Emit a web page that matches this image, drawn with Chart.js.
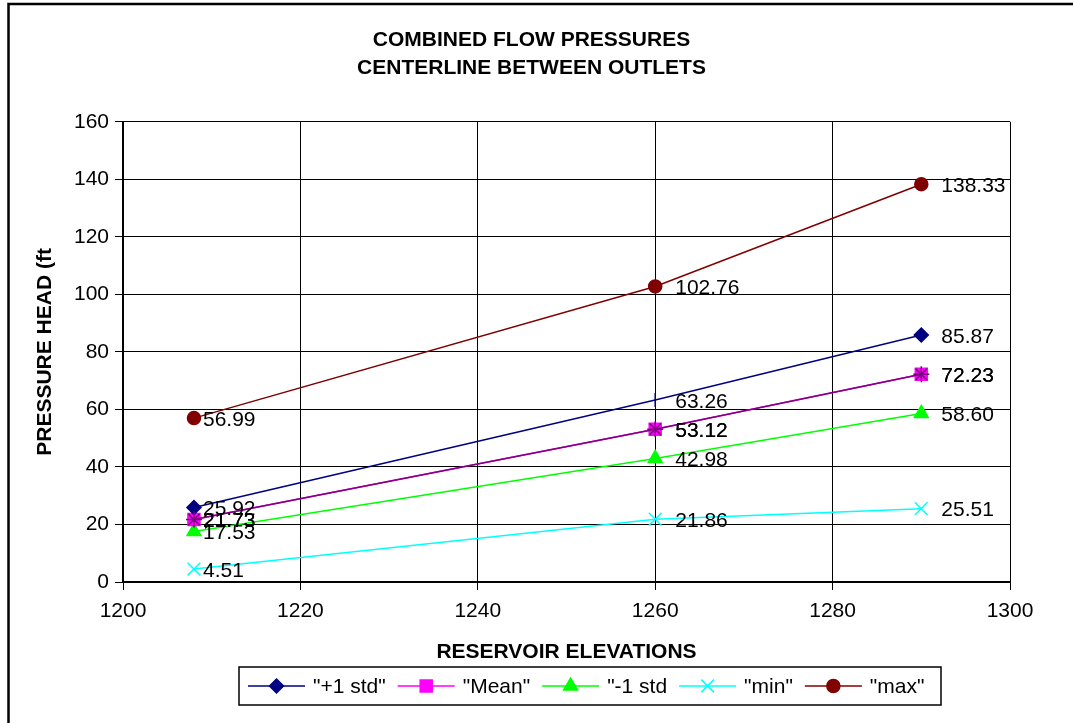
<!DOCTYPE html>
<html lang="en">
<head>
<meta charset="UTF-8">
<title>Combined Flow Pressures</title>
<script src="https://cdn.jsdelivr.net/npm/chart.js"></script>
<style>
  html, body { margin: 0; padding: 0; background: #fff; }
  #wrap { width: 1073px; height: 723px; }
</style>
</head>
<body>
<div id="wrap"><canvas id="flowChart" width="1073" height="723"></canvas></div>
<script>
// x = reservoir elevation, y = pressure head (ft) for each series
const elevations = [1208, 1260, 1290];
const plusOneStd = [25.92, 63.26, 85.87];
const meanVals = [21.73, 53.12, 72.23];
const minusOneStd = [17.53, 42.98, 58.60];
const minVals = [4.51, 21.86, 25.51];
const maxVals = [56.99, 102.76, 138.33];

const seriesNames = ['"+1 std"', '"Mean"', '"-1 std', '"min"', '"max"'];
const titleLines = ['COMBINED FLOW PRESSURES', 'CENTERLINE BETWEEN OUTLETS'];
const xTitle = 'RESERVOIR ELEVATIONS';
const yTitle = 'PRESSURE HEAD (ft';

const FONT = "Arial, 'Liberation Sans', sans-serif";

function pts(vals) {
    return vals.map((v, i) => ({ x: elevations[i], y: v }));
}

const datasets = [
    {
        label: seriesNames[0], data: pts(plusOneStd),
        borderColor: '#000080', backgroundColor: '#000080',
        pointStyle: ['rectRot', 'line', 'rectRot'], pointRotation: [0, 90, 0],
        pointRadius: 7, legendStyle: 'rectRot'
    },
    {
        label: seriesNames[1], data: pts(meanVals),
        borderColor: '#FF00FF', backgroundColor: '#FF00FF',
        pointStyle: 'rect', pointRadius: 8.5, legendStyle: 'rect'
    },
    {
        label: seriesNames[2], data: pts(minusOneStd),
        borderColor: '#00FF00', backgroundColor: '#00FF00',
        pointStyle: 'triangle', pointRadius: 8, legendStyle: 'triangle'
    },
    {
        label: seriesNames[3], data: pts(minVals),
        borderColor: '#00FFFF', backgroundColor: '#00FFFF',
        pointStyle: 'crossRot', pointRadius: 9, legendStyle: 'crossRot'
    },
    {
        label: seriesNames[4], data: pts(maxVals),
        borderColor: '#800000', backgroundColor: '#800000',
        pointStyle: 'circle', pointRadius: 6.5, legendStyle: 'circle'
    },
    // the mean series is overdrawn in the original by a purple line with star markers
    {
        label: 'mean overlay', data: pts(meanVals),
        borderColor: '#800080', backgroundColor: 'rgba(0,0,0,0)',
        pointStyle: 'star', pointRadius: 8, inLegend: false, order: -1
    }
];
datasets.forEach(ds => {
    ds.borderWidth = 1.5;
    ds.pointBorderWidth = 1.5;
    ds.showLine = true;
    ds.tension = 0;
});

// white page with the frame lines (top and left) of the original sheet
const sheetFrame = {
    id: 'sheetFrame',
    beforeDraw(chart) {
        const ctx = chart.ctx;
        ctx.save();
        ctx.fillStyle = '#fff';
        ctx.fillRect(0, 0, chart.width, chart.height);
        ctx.strokeStyle = '#000';
        ctx.lineWidth = 2.5;
        ctx.beginPath();
        ctx.moveTo(chart.width, 4);
        ctx.lineTo(8.5, 4);
        ctx.lineTo(8.5, chart.height);
        ctx.stroke();
        ctx.restore();
    }
};

// value next to each point
const valueLabels = {
    id: 'valueLabels',
    afterDatasetsDraw(chart, args, opts) {
        const ctx = chart.ctx;
        ctx.save();
        ctx.font = '21px ' + FONT;
        ctx.fillStyle = '#000';
        ctx.textAlign = 'left';
        ctx.textBaseline = 'middle';
        chart.data.datasets.forEach((ds, di) => {
            const meta = chart.getDatasetMeta(di);
            meta.data.forEach((el, i) => {
                ctx.fillText(ds.data[i].y.toFixed(2), el.x + opts.dx[i], el.y + opts.dy);
            });
        });
        ctx.restore();
    }
};

// boxed legend with a line and marker for each series
const boxLegend = {
    id: 'boxLegend',
    afterDraw(chart, args, opts) {
        const ctx = chart.ctx;
        ctx.save();
        ctx.strokeStyle = '#000';
        ctx.lineWidth = 1.5;
        ctx.strokeRect(opts.left, opts.top, opts.width, opts.height);
        ctx.font = '21px ' + FONT;
        ctx.textAlign = 'left';
        ctx.textBaseline = 'middle';
        const y = opts.top + opts.height / 2;
        let x = opts.left + 9;
        chart.data.datasets.forEach(ds => {
            if (ds.inLegend === false) return;
            ctx.strokeStyle = ds.borderColor;
            ctx.fillStyle = ds.backgroundColor;
            ctx.lineWidth = 1.5;
            ctx.beginPath();
            ctx.moveTo(x, y);
            ctx.lineTo(x + 57, y);
            ctx.stroke();
            if (Chart.helpers && Chart.helpers.drawPoint) {
                Chart.helpers.drawPoint(ctx, {
                    pointStyle: ds.legendStyle, rotation: 0,
                    radius: ds.pointRadius, borderWidth: 1.5
                }, x + 28.5, y);
            }
            ctx.fillStyle = '#000';
            ctx.fillText(ds.label, x + 65, y + 1);
            x += 65 + ctx.measureText(ds.label).width + 12;
        });
        ctx.restore();
    }
};

const tickFont = { family: FONT, size: 21 };
const titleFont = { family: FONT, size: 21, weight: 'bold', lineHeight: 1.2 };

new Chart(document.getElementById('flowChart'), {
    type: 'scatter',
    data: { datasets: datasets },
    plugins: [sheetFrame, valueLabels, boxLegend],
    options: {
        responsive: false,
        animation: false,
        layout: { padding: { top: 0, left: 0, right: 10, bottom: 0 } },
        plugins: {
            legend: { display: false },
            tooltip: { enabled: false },
            title: {
                display: true,
                text: titleLines,
                color: '#000',
                font: { family: FONT, size: 21, weight: 'bold', lineHeight: 1.33 },
                padding: { top: 26, bottom: 40 }
            },
            valueLabels: { dx: [9, 20, 20], dy: 2 },
            boxLegend: { left: 239, top: 667, width: 702, height: 38 }
        },
        scales: {
            x: {
                type: 'linear',
                min: 1200, max: 1300,
                ticks: {
                    stepSize: 20, color: '#000', font: tickFont, padding: 9, maxRotation: 0,
                    callback: v => String(v)
                },
                grid: { color: '#000', lineWidth: 1, tickLength: 8 },
                border: { color: '#000', width: 2 },
                title: { display: true, text: xTitle, color: '#000', font: titleFont, padding: { top: 0, bottom: 58 } },
                afterFit(scale) { scale.height = 141; }
            },
            y: {
                min: 0, max: 160,
                ticks: { stepSize: 20, color: '#000', font: tickFont, padding: 6 },
                grid: { color: '#000', lineWidth: 1, tickLength: 8 },
                border: { color: '#000', width: 2 },
                title: { display: true, text: yTitle, color: '#000', font: titleFont, padding: { top: 33, bottom: 0 } },
                afterFit(scale) { scale.width = 123; }
            },
            y2: {
                position: 'right',
                display: true,
                grid: { display: false },
                ticks: { display: false },
                border: { display: false },
                afterFit(scale) { scale.width = 53; }
            }
        }
    }
});
</script>
</body>
</html>
